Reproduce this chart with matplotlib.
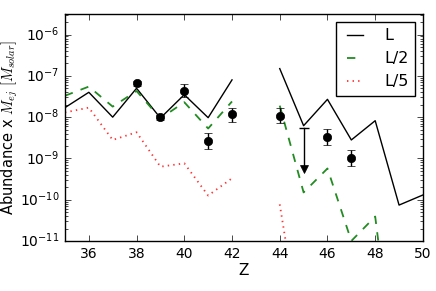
import matplotlib
matplotlib.use("Agg")
import matplotlib.pyplot as plt
import numpy as np

## MODEL YIELDS (abundance x M_ej, nan where no value)
z_model = np.array([35, 36, 37, 38, 39, 40, 41, 42, 43, 44, 45, 46, 47, 48, 49, 50])
yield_L = np.array([1.7e-8, 4.0e-8, 1.0e-8, 5.0e-8, 9.5e-9, 3.5e-8, 9.7e-9, 8.0e-8, np.nan,
                    1.5e-7, 6.2e-9, 2.7e-8, 2.8e-9, 8.2e-9, 7.4e-11, 1.3e-10])
yield_L2 = np.array([3.3e-8, 5.5e-8, 1.8e-8, 4.3e-8, 9.3e-9, 2.3e-8, 5.3e-9, 2.4e-8, np.nan,
                     1.9e-8, 1.5e-10, 5.7e-10, 1.0e-11, 3.9e-11, 1.0e-15, np.nan])
yield_L5 = np.array([1.3e-8, 1.7e-8, 2.8e-9, 4.3e-9, 6.3e-10, 7.6e-10, 1.26e-10, 3.3e-10, np.nan,
                     7.7e-11, 2.0e-14, np.nan, np.nan, np.nan, np.nan, np.nan])

## OBSERVED ABUNDANCES with error bar ends
z_obs = np.array([38, 39, 40, 41, 42, 44, 46, 47])
obs = np.array([6.6e-8, 9.9e-9, 4.35e-8, 2.7e-9, 1.17e-8, 1.08e-8, 3.35e-9, 1.04e-9])
obs_hi = np.array([7.6e-8, 1.12e-8, 6.3e-8, 4.2e-9, 1.7e-8, 1.63e-8, 5.1e-9, 1.6e-9])
obs_lo = np.array([5.7e-8, 8.7e-9, 3.1e-8, 1.7e-9, 7.5e-9, 7.1e-9, 2.1e-9, 6.5e-10])

## UPPER LIMIT
z_lim = 45
lim_top = 5.4e-9
lim_tip = 4.5e-10

plt.style.use("classic")
plt.rcParams["figure.facecolor"] = "white"
plt.rcParams["savefig.facecolor"] = "white"
plt.rcParams["font.size"] = 10
plt.rcParams["mathtext.fontset"] = "cm"

fig = plt.figure(figsize=(4.36, 2.91), dpi=100)
ax = fig.add_axes([0.149, 0.172, 0.821, 0.780])

ax.plot(z_model, yield_L, "k-", lw=1.0, label="L")
ax.plot(z_model, yield_L2, "g--", lw=1.3, label="L/2", color="#228b22")
ax.plot(z_model, yield_L5, "r:", lw=1.3, label="L/5", color="#ff3030")

ax.errorbar(z_obs, obs, yerr=[obs - obs_lo, obs_hi - obs], fmt="ko", ms=6,
            ecolor="k", capsize=3, elinewidth=1)

# upper limit drawn as bar with cap and arrow head
ax.plot([z_lim, z_lim], [lim_top, lim_tip * 1.4], "k-", lw=1)
ax.plot(z_lim, lim_top, "k_", ms=7, mew=1)
ax.plot(z_lim, lim_tip * 1.25, "kv", ms=6)

ax.set_yscale("log")
ax.set_xlim(35, 50)
ax.set_ylim(1e-11, 10 ** -5.5)
ax.set_xticks(np.arange(36, 51, 2))
ax.set_xlabel("Z", fontsize=11, labelpad=2)
ax.set_ylabel("Abundance x $M_{ej}$ $[M_{solar}]$", fontsize=10.5, labelpad=0)
ax.tick_params(labelsize=10)

ax.legend(loc="upper right", fontsize=11.5, handlelength=1.6, handletextpad=1.0,
          borderpad=0.4, labelspacing=0.5, borderaxespad=0.5)

fig.savefig("out.png", dpi=100)
